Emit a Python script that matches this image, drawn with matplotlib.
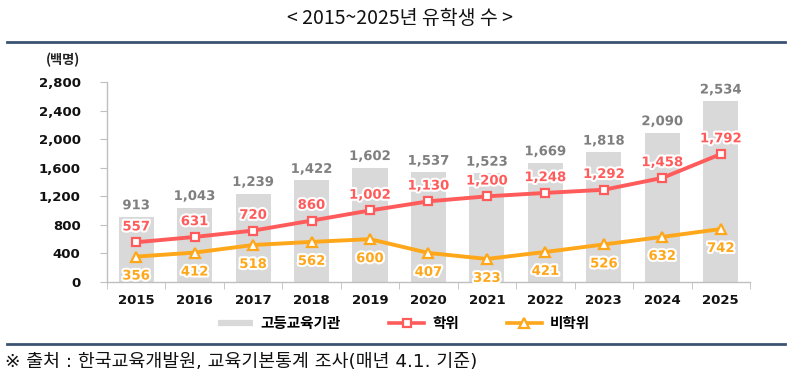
import matplotlib
matplotlib.use("Agg")
import matplotlib.pyplot as plt
import matplotlib.patheffects as pe
from matplotlib.lines import Line2D
import numpy as np

years = ["2015", "2016", "2017", "2018", "2019", "2020", "2021", "2022", "2023", "2024", "2025"]
total = [913, 1043, 1239, 1422, 1602, 1537, 1523, 1669, 1818, 2090, 2534]
degree = [557, 631, 720, 860, 1002, 1130, 1200, 1248, 1292, 1458, 1792]
nondegree = [356, 412, 518, 562, 600, 407, 323, 421, 526, 632, 742]
yticks = [0, 400, 800, 1200, 1600, 2000, 2400, 2800]

title = "< 2015~2025년 유학생 수 >"
unit = "(백명)"
legend_labels = ["고등교육기관", "학위", "비학위"]
footnote = "※ 출처 : 한국교육개발원, 교육기본통계 조사(매년 4.1. 기준)"

FAM = ["DejaVu Sans", "Noto Sans CJK KR"]
KFAM = ["Noto Sans CJK KR", "DejaVu Sans"]
plt.rcParams["font.family"] = FAM

BAR = "#d9d9d9"
RED = "#ff5b5b"
ORG = "#ffa71a"
GRAY_TXT = "#7f7f7f"
LINE_BLUE = "#3b5373"

fig = plt.figure(figsize=(7.92, 3.75), dpi=100)
ax = fig.add_axes([0.135, 0.248, 0.812, 0.533])
x = np.arange(len(years))

ax.bar(x, total, width=0.6, color=BAR, zorder=1)
ax.plot(x, degree, color=RED, lw=2.8, marker="s", ms=6.2, mfc="white", mec=RED, mew=1.6, zorder=3)
ax.plot(x, nondegree, color=ORG, lw=2.8, marker="^", ms=7.5, mfc="white", mec=ORG, mew=1.6, zorder=3)

stroke = [pe.withStroke(linewidth=3, foreground="white")]
for i in range(len(years)):
    ax.annotate(f"{total[i]:,}", (x[i], total[i]), xytext=(0, 8), textcoords="offset points",
                ha="center", va="center", fontsize=9.5, fontweight="bold", color=GRAY_TXT,
                path_effects=stroke, zorder=4)
    ax.annotate(f"{degree[i]:,}", (x[i], degree[i]), xytext=(0, 11), textcoords="offset points",
                ha="center", va="center", fontsize=9.5, fontweight="bold", color=RED,
                path_effects=stroke, zorder=5)
    ax.annotate(f"{nondegree[i]:,}", (x[i], nondegree[i]), xytext=(0, -14), textcoords="offset points",
                ha="center", va="center", fontsize=9.5, fontweight="bold", color=ORG,
                path_effects=stroke, zorder=5)

ax.set_xlim(-0.5, len(years) - 0.5)
ax.set_ylim(0, 2800)
ax.set_yticks(yticks)
ax.set_yticklabels([f"{v:,}" for v in yticks], fontsize=9.5, fontweight="bold", color="#111111")
ax.set_xticks(x)
ax.set_xticklabels(years, fontsize=9.5, fontweight="bold", color="#111111")
ax.tick_params(axis="x", length=0, pad=9)
ax.set_xticks(np.arange(-0.5, len(years), 1.0), minor=True)
ax.tick_params(axis="x", which="minor", length=5, color="#bfbfbf", direction="out")
ax.tick_params(axis="y", length=5, color="#bfbfbf", direction="out", pad=14)
for s in ["top", "right"]:
    ax.spines[s].set_visible(False)
for s in ["left", "bottom"]:
    ax.spines[s].set_color("#bfbfbf")
    ax.spines[s].set_linewidth(1.0)

fig.text(0.505, 0.952, title, ha="center", va="center", fontsize=14, family=KFAM, color="#111111")
fig.add_artist(Line2D([0.009, 0.991], [0.888, 0.888], color=LINE_BLUE, lw=2))
fig.add_artist(Line2D([0.009, 0.991], [0.083, 0.083], color=LINE_BLUE, lw=2))
fig.text(0.08, 0.84, unit, ha="center", va="center", fontsize=9.5, fontweight="bold", family=KFAM, color="#222222")
fig.text(0.006, 0.035, footnote, ha="left", va="center", fontsize=13.2, family=FAM, color="#111111")

handles = [
    Line2D([0], [0], color=BAR, lw=4.5, solid_capstyle="butt"),
    Line2D([0], [0], color=RED, lw=2.6, marker="s", ms=6, mfc="white", mec=RED, mew=1.6),
    Line2D([0], [0], color=ORG, lw=2.6, marker="^", ms=7, mfc="white", mec=ORG, mew=1.6),
]
fig.legend(handles, legend_labels, loc="center", bbox_to_anchor=(0.51, 0.138), ncol=3,
           frameon=False, prop={"family": KFAM, "size": 10.5, "weight": "bold"},
           handlelength=2.4, columnspacing=3.3, handletextpad=0.55)

fig.savefig("out.png", dpi=100)
